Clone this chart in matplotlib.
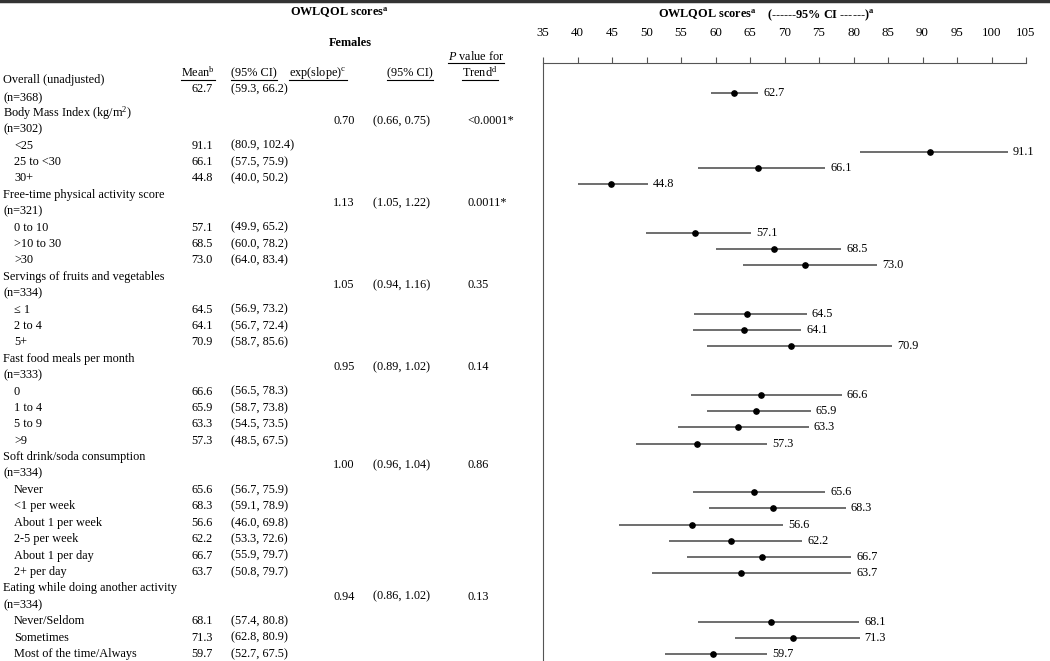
import matplotlib
matplotlib.use('Agg')
import matplotlib.pyplot as plt

plt.rcParams['font.family'] = ['Liberation Serif', 'DejaVu Serif']
plt.rcParams['mathtext.fontset'] = 'custom'
plt.rcParams['mathtext.rm'] = 'Liberation Serif'
plt.rcParams['mathtext.it'] = 'Liberation Serif:italic'
plt.rcParams['mathtext.bf'] = 'Liberation Serif:bold'

overall_mean = 62.7
overall_lo = 59.3
overall_hi = 66.2
overall_n = 368

group_titles = ['Body Mass Index (kg/m$^2$)', 'Free-time physical activity score',
                'Servings of fruits and vegetables', 'Fast food meals per month',
                'Soft drink/soda consumption', 'Eating while doing another activity']
group_n = [302, 321, 334, 333, 334, 334]
exp_slope = ['0.70', '1.13', '1.05', '0.95', '1.00', '0.94']
slope_ci = ['(0.66, 0.75)', '(1.05, 1.22)', '(0.94, 1.16)', '(0.89, 1.02)',
            '(0.96, 1.04)', '(0.86, 1.02)']
p_trend = ['<0.0001*', '0.0011*', '0.35', '0.14', '0.86', '0.13']

cat_labels = [
    ['<25', '25 to <30', '30+'],
    ['0 to 10', '>10 to 30', '>30'],
    ['\u2264 1', '2 to 4', '5+'],
    ['0', '1 to 4', '5 to 9', '>9'],
    ['Never', '<1 per week', 'About 1 per week', '2-5 per week', 'About 1 per day', '2+ per day'],
    ['Never/Seldom', 'Sometimes', 'Most of the time/Always'],
]
cat_mean = [[91.1, 66.1, 44.8], [57.1, 68.5, 73.0], [64.5, 64.1, 70.9],
            [66.6, 65.9, 63.3, 57.3], [65.6, 68.3, 56.6, 62.2, 66.7, 63.7],
            [68.1, 71.3, 59.7]]
cat_lo = [[80.9, 57.5, 40.0], [49.9, 60.0, 64.0], [56.9, 56.7, 58.7],
          [56.5, 58.7, 54.5, 48.5], [56.7, 59.1, 46.0, 53.3, 55.9, 50.8],
          [57.4, 62.8, 52.7]]
cat_hi = [[102.4, 75.9, 50.2], [65.2, 78.2, 83.4], [73.2, 72.4, 85.6],
          [78.3, 73.8, 73.5, 67.5], [75.9, 78.9, 69.8, 72.6, 79.7, 79.7],
          [80.8, 80.9, 67.5]]

W, H = 1050, 661
fs = 8.8


def row_y(r):
    return 80 + 16.4 * r


def plot_y(r):
    return 87.2 + 16.2 * r


fig = plt.figure(figsize=(W / 100, H / 100), dpi=100)
tab = fig.add_axes([0, 0, 1, 1])
tab.set_xlim(0, W)
tab.set_ylim(H, 0)
tab.axis('off')

tab.plot([0, W], [1, 1], color='#333333', lw=2.5, clip_on=False)

# table headers
tab.text(339, 13, 'OWLQOL scores$^{\\mathbf{a}}$', ha='center', va='center', fontsize=fs, weight='bold')
tab.text(350, 43, 'Females', ha='center', va='center', fontsize=fs, weight='bold')
under = []
under.append((tab.text(476, 57, '$P$ value for', ha='center', va='center', fontsize=fs), 63))
under.append((tab.text(198, 73, 'Mean$^{\\mathrm{b}}$', ha='center', va='center', fontsize=fs), 79.5))
under.append((tab.text(231, 73, '(95% CI)', ha='left', va='center', fontsize=fs), 79.5))
under.append((tab.text(318, 73, 'exp(slope)$^{\\mathrm{c}}$', ha='center', va='center', fontsize=fs), 79.5))
under.append((tab.text(387, 73, '(95% CI)', ha='left', va='center', fontsize=fs), 79.5))
under.append((tab.text(480, 73, 'Trend$^{\\mathrm{d}}$', ha='center', va='center', fontsize=fs), 79.5))

# overall rows
tab.text(3, row_y(0), 'Overall (unadjusted)', va='center', fontsize=fs)
tab.text(3, row_y(1.1), '(n=%d)' % overall_n, va='center', fontsize=fs)
tab.text(202, row_y(0.55), '%.1f' % overall_mean, ha='center', va='center', fontsize=fs)
tab.text(231, row_y(0.55), '(%.1f, %.1f)' % (overall_lo, overall_hi), va='center', fontsize=fs)

# forest panel
ax = fig.add_axes([543 / W, 0, (1026 - 543) / W, (H - 63) / H])
ax.set_xlim(35, 105)
ax.set_ylim(H, 63)
ax.xaxis.tick_top()
ax.set_xticks(range(35, 106, 5))
ax.set_yticks([])
ax.spines['right'].set_visible(False)
ax.spines['bottom'].set_visible(False)
for s in ['top', 'left']:
    ax.spines[s].set_color('#555555')
ax.tick_params(axis='x', direction='out', length=4, color='#555555',
               labelsize=9.3, pad=13)
ax.patch.set_alpha(0)

tab.text(707, 15, 'OWLQOL scores$^{\\mathbf{a}}$', ha='center', va='center', fontsize=fs, weight='bold')
tab.text(821, 15, '(------95% CI ------)$^{\\mathbf{a}}$', ha='center', va='center', fontsize=fs, weight='bold')


def draw_point(m, lo, hi, y):
    ax.hlines(y, lo, hi, color='#555555', lw=1.2)
    ax.plot(m, y, 'o', color='black', ms=3.8)
    ax.annotate('%.1f' % m, (hi, y), xytext=(5, 0), textcoords='offset pixels',
                va='center', fontsize=fs)


draw_point(overall_mean, overall_lo, overall_hi, plot_y(0.36))

r = 2
for g in range(len(group_titles)):
    tab.text(3, row_y(r), group_titles[g], va='center', fontsize=fs)
    tab.text(3, row_y(r + 1), '(n=%d)' % group_n[g], va='center', fontsize=fs)
    tab.text(333, row_y(r + 0.5), exp_slope[g], va='center', fontsize=fs)
    tab.text(373, row_y(r + 0.5), slope_ci[g], va='center', fontsize=fs)
    tab.text(467, row_y(r + 0.5), p_trend[g], va='center', fontsize=fs)
    r += 2
    for lab, m, lo, hi in zip(cat_labels[g], cat_mean[g], cat_lo[g], cat_hi[g]):
        tab.text(14, row_y(r), lab, va='center', fontsize=fs)
        tab.text(202, row_y(r), '%.1f' % m, ha='center', va='center', fontsize=fs)
        tab.text(231, row_y(r), '(%.1f, %.1f)' % (lo, hi), va='center', fontsize=fs)
        draw_point(m, lo, hi, plot_y(r))
        r += 1

# underline the column headers
fig.canvas.draw()
inv = tab.transData.inverted()
for t, uy in under:
    bb = t.get_window_extent()
    (x0, _), (x1, _) = inv.transform([[bb.x0, bb.y0], [bb.x1, bb.y0]])
    tab.plot([x0, x1], [uy, uy], color='black', lw=0.8)

fig.savefig('out.png', dpi=100)
